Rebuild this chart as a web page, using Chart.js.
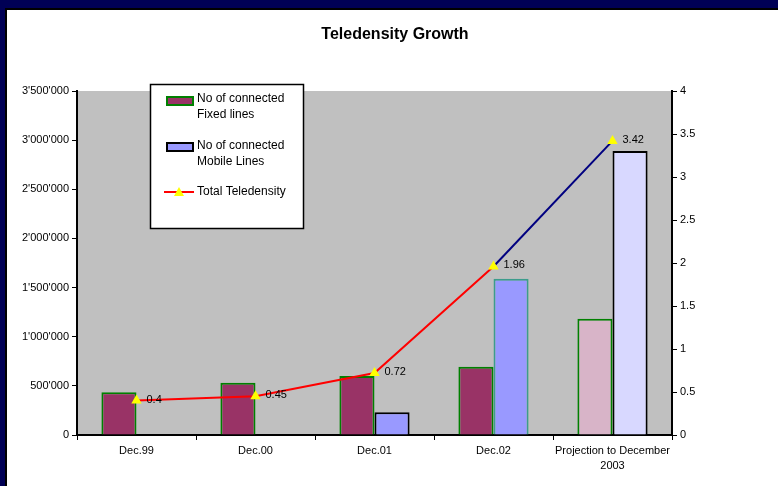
<!DOCTYPE html>
<html>
<head>
<meta charset="utf-8">
<script src="https://cdn.jsdelivr.net/npm/chart.js@4.4.1/dist/chart.umd.min.js"></script>
<style>
  html, body { margin: 0; padding: 0; background: #000055; width: 778px; height: 486px; overflow: hidden; }
  #panel { position: absolute; left: 5px; top: 8px; width: 773px; height: 478px; background: #fff; border-left: 2px solid #000; border-top: 2px solid #000; box-sizing: border-box; }
  #c { position: absolute; left: 0; top: 0; }
</style>
</head>
<body>
<div id="panel"></div>
<canvas id="c" width="778" height="486"></canvas>
<script>
// ---- data ----
const categories = ["Dec.99", "Dec.00", "Dec.01", "Dec.02", ["Projection to December", "2003"]];
const fixedLines = [434000, 532000, 600000, 695000, 1183000];
const mobileLines = [null, null, 231000, 1590000, 2890000];
const teledensity = [0.4, 0.45, 0.72, 1.96, 3.42];
const leftTickLabels = ["0", "500'000", "1'000'000", "1'500'000", "2'000'000", "2'500'000", "3'000'000", "3'500'000"];
const rightTickLabels = ["0", "0.5", "1", "1.5", "2", "2.5", "3", "3.5", "4"];
const seriesNames = ["No of connected Fixed lines", "No of connected Mobile Lines", "Total Teledensity"];
const chartTitle = "Teledensity Growth";

const FONT = "'Liberation Sans', Arial, sans-serif";

const plotBg = {
  id: 'plotBg',
  beforeDraw(chart) {
    const { ctx, chartArea: a } = chart;
    ctx.save();
    ctx.fillStyle = '#C0C0C0';
    ctx.fillRect(a.left, a.top, a.right - a.left, a.bottom - a.top);
    ctx.restore();
  }
};

const titlePlugin = {
  id: 'titlePlugin',
  afterDraw(chart) {
    const ctx = chart.ctx;
    ctx.save();
    ctx.font = "bold 16px " + FONT;
    ctx.fillStyle = '#000';
    ctx.textAlign = 'center';
    ctx.textBaseline = 'middle';
    ctx.fillText(chartTitle, 395, 35);
    ctx.restore();
  }
};

const pointLabels = {
  id: 'pointLabels',
  afterDatasetsDraw(chart) {
    const ctx = chart.ctx;
    const meta = chart.getDatasetMeta(2);
    ctx.save();
    ctx.font = "11px " + FONT;
    ctx.fillStyle = '#000';
    ctx.textAlign = 'left';
    ctx.textBaseline = 'middle';
    meta.data.forEach((pt, i) => {
      ctx.fillText(String(teledensity[i]), pt.x + 10, pt.y - 1);
    });
    ctx.restore();
  }
};

const legendPlugin = {
  id: 'legendPlugin',
  afterDraw(chart) {
    const ctx = chart.ctx;
    ctx.save();
    ctx.fillStyle = '#fff';
    ctx.fillRect(150, 84, 153, 144);
    ctx.strokeStyle = '#000';
    ctx.lineWidth = 1.5;
    ctx.strokeRect(150.5, 84.5, 153, 144);
    // swatch 1
    ctx.fillStyle = '#993366';
    ctx.fillRect(167, 97, 26, 8);
    ctx.strokeStyle = '#008000';
    ctx.lineWidth = 2;
    ctx.strokeRect(167, 97, 26, 8);
    // swatch 2
    ctx.fillStyle = '#9999FF';
    ctx.fillRect(167, 143, 26, 8);
    ctx.strokeStyle = '#000';
    ctx.strokeRect(167, 143, 26, 8);
    // line
    ctx.strokeStyle = '#FF0000';
    ctx.lineWidth = 2;
    ctx.beginPath();
    ctx.moveTo(164, 192);
    ctx.lineTo(194, 192);
    ctx.stroke();
    ctx.fillStyle = '#FFFF00';
    ctx.beginPath();
    ctx.moveTo(179, 187);
    ctx.lineTo(184, 196);
    ctx.lineTo(174, 196);
    ctx.closePath();
    ctx.fill();
    // text
    ctx.fillStyle = '#000';
    ctx.font = "12px " + FONT;
    ctx.textAlign = 'left';
    ctx.textBaseline = 'middle';
    ctx.fillText("No of connected", 197, 99);
    ctx.fillText("Fixed lines", 197, 115);
    ctx.fillText("No of connected", 197, 146);
    ctx.fillText("Mobile Lines", 197, 162);
    ctx.fillText("Total Teledensity", 197, 192);
    ctx.restore();
  }
};

new Chart(document.getElementById('c'), {
  type: 'bar',
  data: {
    labels: categories,
    datasets: [
      {
        label: seriesNames[0],
        data: fixedLines,
        backgroundColor: ['#993366', '#993366', '#993366', '#993366', '#D8B4C8'],
        borderColor: '#008000',
        borderWidth: 2,
        yAxisID: 'y',
        order: 2,
        categoryPercentage: 0.59,
        barPercentage: 1.0
      },
      {
        label: seriesNames[1],
        data: mobileLines,
        backgroundColor: ['#9999FF', '#9999FF', '#9999FF', '#9999FF', '#D8D8FF'],
        borderColor: ['#000', '#000', '#000', '#3C9C8C', '#000'],
        borderWidth: 2,
        yAxisID: 'y',
        order: 2,
        categoryPercentage: 0.59,
        barPercentage: 1.0
      },
      {
        type: 'line',
        label: seriesNames[2],
        data: teledensity,
        yAxisID: 'y1',
        order: 0,
        borderColor: '#FF0000',
        borderWidth: 2,
        tension: 0,
        pointStyle: 'triangle',
        pointRadius: 6,
        pointBackgroundColor: '#FFFF00',
        pointBorderColor: '#FFFF00',
        pointBorderWidth: 0,
        segment: {
          borderColor: ctx => ctx.p0DataIndex === 3 ? '#000080' : '#FF0000'
        }
      }
    ]
  },
  options: {
    responsive: false,
    animation: false,
    devicePixelRatio: 1,
    layout: { padding: { top: 91, left: 0, right: 0, bottom: 0 } },
    plugins: {
      legend: { display: false },
      title: { display: false },
      tooltip: { enabled: false }
    },
    scales: {
      x: {
        grid: { display: true, drawOnChartArea: false, drawTicks: true, tickLength: 5, color: '#000', lineWidth: 1, offset: true },
        border: { display: true, color: '#000', width: 2 },
        ticks: { color: '#000', font: { family: FONT, size: 11, lineHeight: 1.4 }, maxRotation: 0, minRotation: 0, autoSkip: false, padding: 3 },
        afterFit(scale) { scale.height = 51; }
      },
      y: {
        position: 'left',
        min: 0, max: 3500000,
        grid: { display: true, drawOnChartArea: false, drawTicks: true, tickLength: 5, color: '#000', lineWidth: 1 },
        border: { display: true, color: '#000', width: 2 },
        ticks: {
          stepSize: 500000, color: '#000', font: { family: FONT, size: 11 }, padding: 3,
          callback: (v, i) => leftTickLabels[i]
        },
        afterFit(scale) { scale.width = 77; }
      },
      y1: {
        position: 'right',
        min: 0, max: 4,
        grid: { display: true, drawOnChartArea: false, drawTicks: true, tickLength: 5, color: '#000', lineWidth: 1 },
        border: { display: true, color: '#000', width: 2 },
        ticks: {
          stepSize: 0.5, color: '#000', font: { family: FONT, size: 11 }, padding: 3,
          callback: (v, i) => rightTickLabels[i]
        },
        afterFit(scale) { scale.width = 106; }
      }
    }
  },
  plugins: [plotBg, titlePlugin, pointLabels, legendPlugin]
});
</script>
</body>
</html>
